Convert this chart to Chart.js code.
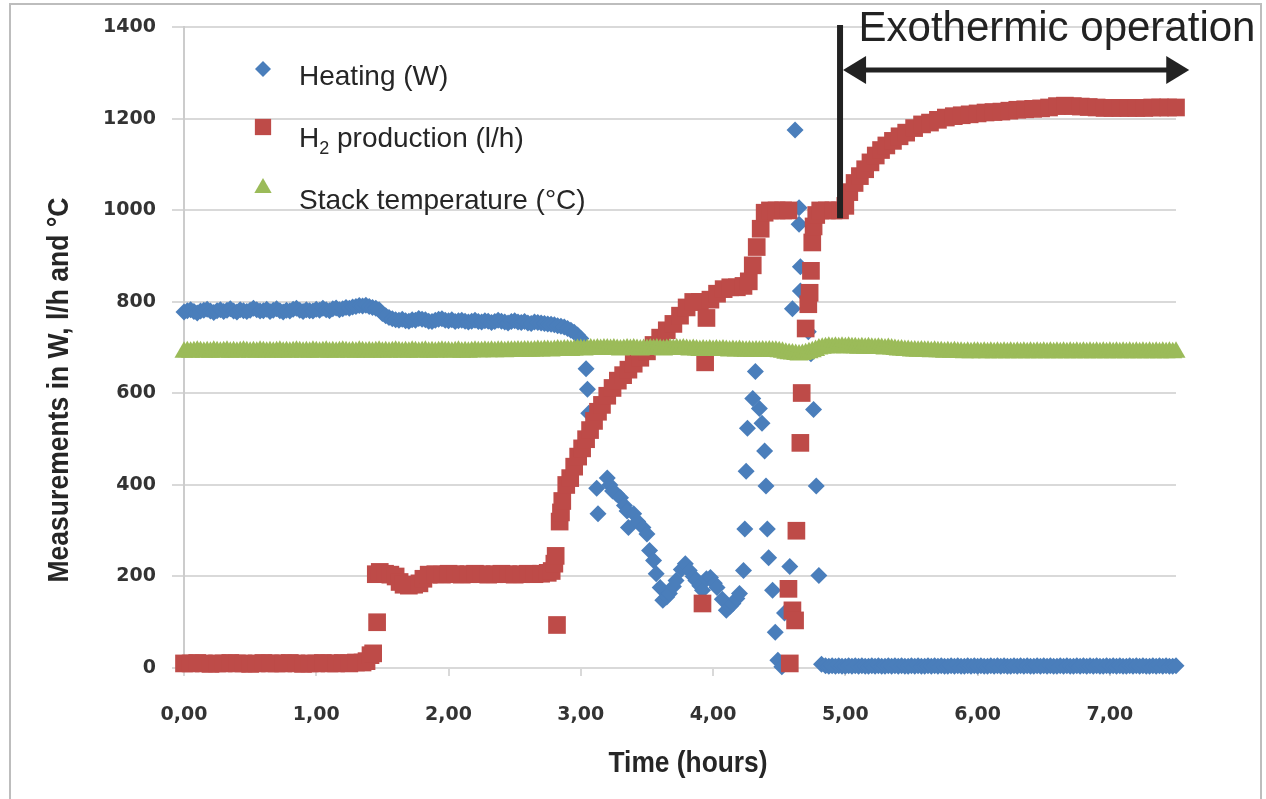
<!DOCTYPE html>
<html>
<head>
<meta charset="utf-8">
<script src="https://cdn.jsdelivr.net/npm/chart.js@4.4.1/dist/chart.umd.min.js"></script>
<style>
html,body{margin:0;padding:0;background:#fff;}
#wrap{position:relative;width:1266px;height:799px;}
</style>
</head>
<body>
<div id="wrap"><canvas id="c" width="1266" height="799"></canvas></div>
<script>
// ---------------- DATA ----------------
const seriesLabels = ['Heating (W)', 'H\u2082 production (l/h)', 'Stack temperature (\u00B0C)'];
const xTickLabels = ['0,00','1,00','2,00','3,00','4,00','5,00','6,00','7,00'];
const yTickLabels = ['0','200','400','600','800','1000','1200','1400'];
const axisTitles = { x: 'Time (hours)', y: 'Measurements in W, l/h and \u00B0C' };
const annotationText = 'Exothermic operation';

const heatingTime = [
0.000,0.025,0.050,0.075,0.100,0.125,0.150,0.175,0.200,0.225,0.250,0.275,0.300,0.325,0.350,0.375,0.400,0.425,0.450,0.475,
0.500,0.525,0.550,0.575,0.600,0.625,0.650,0.675,0.700,0.725,0.750,0.775,0.800,0.825,0.850,0.875,0.900,0.925,0.950,0.975,
1.000,1.025,1.050,1.075,1.100,1.125,1.150,1.175,1.200,1.225,1.250,1.275,1.300,1.325,1.350,1.375,1.400,1.425,1.450,1.475,
1.500,1.525,1.550,1.575,1.600,1.625,1.650,1.675,1.700,1.725,1.750,1.775,1.800,1.825,1.850,1.875,1.900,1.925,1.950,1.975,
2.000,2.025,2.050,2.075,2.100,2.125,2.150,2.175,2.200,2.225,2.250,2.275,2.300,2.325,2.350,2.375,2.400,2.425,2.450,2.475,
2.500,2.525,2.550,2.575,2.600,2.625,2.650,2.675,2.700,2.725,2.750,2.775,2.800,2.825,2.850,2.875,2.900,2.925,2.950,2.975,
3.00,3.04,3.05,3.06,3.12,3.13,3.20,3.22,3.24,3.27,3.30,3.33,3.35,3.36,3.40,3.43,3.47,3.50,3.52,3.55,3.57,
3.60,3.62,3.65,3.67,3.70,3.72,3.76,3.79,3.82,3.85,3.87,3.90,3.92,3.95,3.98,4.01,4.03,4.07,4.10,4.13,
4.15,4.18,4.20,4.23,4.24,4.25,4.26,4.30,4.32,4.35,4.37,4.39,4.40,4.41,4.42,4.45,4.47,4.49,4.52,4.54,
4.58,4.60,4.62,4.65,4.65,4.66,4.66,4.72,4.74,4.76,4.78,4.80,4.82,
4.850,4.875,4.900,4.925,4.950,4.975,5.000,5.025,5.050,5.075,5.100,5.125,5.150,5.175,5.200,5.225,5.250,5.275,5.300,5.325,
5.350,5.375,5.400,5.425,5.450,5.475,5.500,5.525,5.550,5.575,5.600,5.625,5.650,5.675,5.700,5.725,5.750,5.775,5.800,5.825,
5.850,5.875,5.900,5.925,5.950,5.975,6.000,6.025,6.050,6.075,6.100,6.125,6.150,6.175,6.200,6.225,6.250,6.275,6.300,6.325,
6.350,6.375,6.400,6.425,6.450,6.475,6.500,6.525,6.550,6.575,6.600,6.625,6.650,6.675,6.700,6.725,6.750,6.775,6.800,6.825,
6.850,6.875,6.900,6.925,6.950,6.975,7.000,7.025,7.050,7.075,7.100,7.125,7.150,7.175,7.200,7.225,7.250,7.275,7.300,7.325,
7.350,7.375,7.400,7.425,7.450,7.475,7.500
];
const heatingW = [
778,781,783,779,776,780,782,784,780,777,781,783,779,782,785,780,778,783,781,779,
782,786,783,780,781,784,779,782,785,781,778,782,780,784,786,782,779,783,781,780,
784,782,786,783,781,785,787,783,785,788,786,789,790,792,791,793,790,788,786,783,
775,770,766,763,761,760,762,759,758,761,760,764,762,761,758,757,760,762,763,760,
759,761,757,759,760,758,756,758,760,757,756,759,758,755,757,760,758,756,754,757,
759,756,755,757,754,753,756,755,754,753,752,751,750,748,747,745,742,738,734,728,
720,654,609,557,393,337,415,400,387,380,372,355,343,307,337,320,307,293,257,235,206,
176,148,155,163,178,191,215,228,213,200,191,180,170,195,198,185,176,150,126,135,
141,152,163,213,304,430,524,589,648,567,535,474,398,304,241,170,78,17,3,120,
222,785,1176,1006,970,877,824,735,687,565,398,202,8,
5,4,5,4,5,4,4,5,4,5,4,5,4,4,5,4,5,4,4,5,
4,5,4,5,4,4,5,4,5,4,4,5,4,5,4,5,4,4,5,4,
5,4,4,5,4,5,4,5,4,4,5,4,5,4,5,4,4,5,4,5,
4,5,4,4,5,4,5,4,5,4,4,5,4,5,4,4,5,4,5,4,
5,4,5,4,4,5,4,5,4,5,4,4,5,4,5,4,5,4,4,5,
4,5,4,5,4,4,5
];

const h2Time = [
0.00,0.05,0.10,0.15,0.20,0.25,0.30,0.35,0.40,0.45,0.50,0.55,0.60,0.65,0.70,0.75,0.80,0.85,0.90,0.95,1.00,1.05,1.10,1.15,1.20,1.25,1.30,1.35,
1.38,1.41,1.43,1.46,1.45,1.48,1.52,1.56,1.60,1.63,1.66,1.70,1.74,1.78,1.81,1.85,
1.90,1.95,2.00,2.05,2.10,2.15,2.20,2.25,2.30,2.35,2.40,2.45,2.50,2.55,2.60,2.65,2.70,2.75,
2.78,2.80,2.81,2.82,2.84,2.85,2.86,2.89,2.92,2.95,2.98,3.01,3.04,3.07,3.10,3.13,3.16,3.20,3.24,3.28,
3.32,3.36,3.40,3.45,3.50,3.55,3.60,3.65,3.70,3.75,3.80,3.85,3.90,3.92,3.94,3.95,3.98,4.03,4.08,4.13,
4.18,4.23,4.27,4.30,4.33,4.36,4.39,4.43,4.48,4.53,4.57,4.57,4.58,4.60,4.62,4.63,4.66,4.67,4.70,4.72,
4.73,4.74,4.75,4.76,4.78,4.81,4.86,4.91,4.96,
5.00,5.03,5.07,5.11,5.15,5.19,5.23,5.27,5.31,5.36,5.41,5.46,5.52,5.58,5.64,5.70,5.76,5.82,5.88,5.94,
6.00,6.06,6.12,6.18,6.24,6.30,6.36,6.42,6.48,6.54,6.60,6.66,6.72,6.78,6.84,6.90,6.96,7.02,7.08,7.14,
7.20,7.26,7.32,7.38,7.44,7.50
];
const h2Flow = [
10,10,11,10,9,10,10,11,10,10,9,10,11,10,10,10,11,10,9,10,10,11,10,10,11,10,12,12,
15,28,32,100,205,210,206,204,200,188,182,180,182,185,195,204,
205,204,206,205,204,205,206,205,204,205,206,205,204,205,206,205,206,208,
212,228,245,94,320,340,365,400,415,440,462,480,500,520,540,560,575,595,612,628,
640,652,665,678,692,706,722,738,752,770,788,800,800,141,668,765,805,818,828,832,
832,835,845,880,920,960,995,1000,1000,1000,1000,173,10,126,104,300,492,601,742,795,
820,868,930,965,990,1000,1000,1000,1000,
1010,1040,1060,1075,1090,1105,1120,1132,1142,1152,1162,1170,1180,1188,1192,1198,1203,1206,1208,1210,
1212,1214,1215,1216,1218,1220,1221,1222,1223,1225,1228,1229,1228,1227,1226,1225,1224,1224,1224,1224,
1224,1224,1225,1225,1225,1225
];

const tempTime = [
0.000,0.025,0.050,0.075,0.100,0.125,0.150,0.175,0.200,0.225,0.250,0.275,0.300,0.325,0.350,0.375,0.400,0.425,0.450,0.475,
0.500,0.525,0.550,0.575,0.600,0.625,0.650,0.675,0.700,0.725,0.750,0.775,0.800,0.825,0.850,0.875,0.900,0.925,0.950,0.975,
1.000,1.025,1.050,1.075,1.100,1.125,1.150,1.175,1.200,1.225,1.250,1.275,1.300,1.325,1.350,1.375,1.400,1.425,1.450,1.475,
1.500,1.525,1.550,1.575,1.600,1.625,1.650,1.675,1.700,1.725,1.750,1.775,1.800,1.825,1.850,1.875,1.900,1.925,1.950,1.975,
2.000,2.025,2.050,2.075,2.100,2.125,2.150,2.175,2.200,2.225,2.250,2.275,2.300,2.325,2.350,2.375,2.400,2.425,2.450,2.475,
2.500,2.525,2.550,2.575,2.600,2.625,2.650,2.675,2.700,2.725,2.750,2.775,2.800,2.825,2.850,2.875,2.900,2.925,2.950,2.975,
3.000,3.025,3.050,3.075,3.100,3.125,3.150,3.175,3.200,3.225,3.250,3.275,3.300,3.325,3.350,3.375,3.400,3.425,3.450,3.475,
3.500,3.525,3.550,3.575,3.600,3.625,3.650,3.675,3.700,3.725,3.750,3.775,3.800,3.825,3.850,3.875,3.900,3.925,3.950,3.975,
4.000,4.025,4.050,4.075,4.100,4.125,4.150,4.175,4.200,4.225,4.250,4.275,4.300,4.325,4.350,4.375,4.400,4.425,4.450,4.475,
4.500,4.525,4.550,4.575,4.600,4.625,4.650,4.675,4.700,4.725,4.750,4.775,4.800,4.825,4.850,4.875,4.900,4.925,4.950,4.975,
5.000,5.025,5.050,5.075,5.100,5.125,5.150,5.175,5.200,5.225,5.250,5.275,5.300,5.325,5.350,5.375,5.400,5.425,5.450,5.475,
5.500,5.525,5.550,5.575,5.600,5.625,5.650,5.675,5.700,5.725,5.750,5.775,5.800,5.825,5.850,5.875,5.900,5.925,5.950,5.975,
6.000,6.025,6.050,6.075,6.100,6.125,6.150,6.175,6.200,6.225,6.250,6.275,6.300,6.325,6.350,6.375,6.400,6.425,6.450,6.475,
6.500,6.525,6.550,6.575,6.600,6.625,6.650,6.675,6.700,6.725,6.750,6.775,6.800,6.825,6.850,6.875,6.900,6.925,6.950,6.975,
7.000,7.025,7.050,7.075,7.100,7.125,7.150,7.175,7.200,7.225,7.250,7.275,7.300,7.325,7.350,7.375,7.400,7.425,7.450,7.475,
7.500
];
const tempC = [
690,691,690,691,692,691,690,691,690,692,691,690,691,692,690,691,690,691,692,691,
690,691,690,692,691,690,691,690,691,692,690,691,690,691,692,691,690,691,690,692,
691,690,691,692,690,691,690,691,692,691,690,691,690,692,691,690,691,690,691,692,
690,691,690,691,692,691,690,691,690,692,691,690,691,692,690,691,690,691,692,691,
691,690,691,692,690,691,690,691,692,691,691,692,691,692,691,692,692,691,692,692,
692,693,692,693,693,692,693,694,693,694,694,693,694,695,694,695,695,694,695,696,
696,695,696,697,696,697,696,697,697,696,697,696,695,696,697,696,697,696,695,696,
696,697,696,697,696,695,696,697,696,697,696,697,696,695,696,695,694,695,694,695,
694,695,694,695,694,693,694,693,694,693,692,693,692,693,692,693,692,693,692,692,
691,690,688,687,686,685,684,685,687,689,691,694,697,699,700,701,700,701,700,701,
700,701,700,700,699,700,699,700,699,698,699,698,697,698,697,696,695,695,694,694,
693,693,692,693,692,692,691,692,691,691,690,691,690,691,690,690,689,690,689,690,
690,689,690,689,690,689,690,689,690,689,690,689,690,689,690,689,690,689,690,689,
690,689,690,689,690,689,690,689,690,689,690,689,690,689,690,689,690,689,690,689,
690,689,690,689,690,689,690,689,690,689,690,689,690,689,690,689,690,689,690,689,
690
];

// ---------------- STYLE / LAYOUT ----------------
const COLORS = { heating: '#4a7ebb', h2: '#be4b48', temp: '#9bbb59', text: '#262626', grid: '#d9d9d9' };
const MARKER = { rectRot: 8.5, rect: 12.5, triangle: 11 };
const annot = { lineX: 4.96, lineTop: 1405, lineBottom: 983, arrowY: 1307, arrowEnd: 7.60, textX: 5.10, textY: 1370 };
const legendLayout = { markerX: 263, textX: 299, rows: [ {my: 69, ty: 85}, {my: 127, ty: 147}, {my: 188, ty: 209} ] };

const toPts = (xs, ys) => xs.map((x, i) => ({ x: x, y: ys[i] }));

function shape(c, style, x, y, r) {
  c.beginPath();
  if (style === 'rectRot') {
    c.moveTo(x, y - r); c.lineTo(x + r, y); c.lineTo(x, y + r); c.lineTo(x - r, y);
  } else if (style === 'rect') {
    const s = r * Math.SQRT1_2; c.rect(x - s, y - s, 2 * s, 2 * s);
  } else {
    c.moveTo(x, y - r);
    c.lineTo(x + Math.sin(2 * Math.PI / 3) * r, y + r / 2);
    c.lineTo(x - Math.sin(2 * Math.PI / 3) * r, y + r / 2);
  }
  c.closePath(); c.fill();
}

function fitText(c, text, cx, cy, targetW, rot) {
  const w = c.measureText(text).width;
  const sx = targetW / w;
  c.save(); c.translate(cx, cy); if (rot) c.rotate(rot); c.scale(sx, 1);
  c.textAlign = 'center'; c.textBaseline = 'middle'; c.fillText(text, 0, 0); c.restore();
}

const overlay = {
  id: 'overlay',
  beforeDraw(chart) {
    const c = chart.ctx; c.save();
    c.fillStyle = '#fff'; c.fillRect(0, 0, chart.width, chart.height);
    c.strokeStyle = '#bdbdbd'; c.lineWidth = 2; c.strokeRect(10, 4, 1251, 820);
    c.restore();
  },
  afterDraw(chart) {
    const c = chart.ctx, xs = chart.scales.x, ys = chart.scales.y;
    c.save();
    c.fillStyle = COLORS.text;
    c.font = 'bold 29px "Liberation Sans", Arial, sans-serif';
    fitText(c, axisTitles.x, 688, 764, 159, 0);
    fitText(c, axisTitles.y, 60, 390, 385, -Math.PI / 2);
    chart.data.datasets.forEach((ds, i) => {
      const row = legendLayout.rows[i];
      c.fillStyle = ds.backgroundColor;
      shape(c, ds.pointStyle, legendLayout.markerX, row.my, ds.pointStyle === 'rect' ? 11.5 : (ds.pointStyle === 'triangle' ? 10 : 8));
      c.fillStyle = COLORS.text;
      c.textAlign = 'left'; c.textBaseline = 'alphabetic';
      const parts = ds.label.split('\u2082');
      c.font = '28px "Liberation Sans", Arial, sans-serif';
      if (parts.length === 2) {
        c.fillText(parts[0], legendLayout.textX, row.ty);
        let x = legendLayout.textX + c.measureText(parts[0]).width;
        c.font = '18px "Liberation Sans", Arial, sans-serif';
        c.fillText('2', x, row.ty + 7);
        x += c.measureText('2').width;
        c.font = '28px "Liberation Sans", Arial, sans-serif';
        c.fillText(parts[1], x, row.ty);
      } else {
        c.fillText(ds.label, legendLayout.textX, row.ty);
      }
    });
    const lx = xs.getPixelForValue(annot.lineX);
    c.strokeStyle = '#222'; c.fillStyle = '#222';
    c.lineWidth = 6; c.lineCap = 'butt';
    c.beginPath(); c.moveTo(lx, ys.getPixelForValue(annot.lineTop)); c.lineTo(lx, ys.getPixelForValue(annot.lineBottom)); c.stroke();
    const ay = ys.getPixelForValue(annot.arrowY);
    const a1 = lx + 3, a2 = xs.getPixelForValue(annot.arrowEnd);
    c.lineWidth = 5;
    c.beginPath(); c.moveTo(a1 + 15, ay); c.lineTo(a2 - 15, ay); c.stroke();
    c.beginPath(); c.moveTo(a1, ay); c.lineTo(a1 + 23, ay - 14); c.lineTo(a1 + 23, ay + 14); c.closePath(); c.fill();
    c.beginPath(); c.moveTo(a2, ay); c.lineTo(a2 - 23, ay - 14); c.lineTo(a2 - 23, ay + 14); c.closePath(); c.fill();
    c.font = '42px "Liberation Sans", Arial, sans-serif';
    c.textAlign = 'left'; c.textBaseline = 'alphabetic';
    c.fillText(annotationText, xs.getPixelForValue(annot.textX), ys.getPixelForValue(annot.textY));
    c.restore();
  }
};

const tickFont = { family: '"DejaVu Sans", Verdana, sans-serif', size: 19, weight: 'bold' };

new Chart(document.getElementById('c'), {
  type: 'scatter',
  data: {
    datasets: [
      { label: seriesLabels[0], data: toPts(heatingTime, heatingW), pointStyle: 'rectRot', pointRadius: MARKER.rectRot,
        backgroundColor: COLORS.heating, borderColor: COLORS.heating, pointBorderWidth: 0, order: 3, clip: false },
      { label: seriesLabels[1], data: toPts(h2Time, h2Flow), pointStyle: 'rect', pointRadius: MARKER.rect,
        backgroundColor: COLORS.h2, borderColor: COLORS.h2, pointBorderWidth: 0, order: 2, clip: false },
      { label: seriesLabels[2], data: toPts(tempTime, tempC), pointStyle: 'triangle', pointRadius: MARKER.triangle,
        backgroundColor: COLORS.temp, borderColor: COLORS.temp, pointBorderWidth: 0, order: 1, clip: false }
    ]
  },
  options: {
    responsive: false, animation: false, devicePixelRatio: 1, events: [],
    layout: { padding: { left: 0, right: 90, top: 24, bottom: 0 } },
    plugins: { legend: { display: false }, tooltip: { enabled: false }, title: { display: false } },
    scales: {
      x: {
        type: 'linear', min: 0, max: 7.5,
        afterFit: (s) => { s.height = 131; },
        grid: { drawOnChartArea: false, drawTicks: true, tickLength: 8, color: COLORS.grid, lineWidth: 2 },
        border: { color: COLORS.grid, width: 2 },
        ticks: { stepSize: 1, includeBounds: false, autoSkip: false, maxRotation: 0, padding: 28,
                 font: tickFont, color: '#333', callback: (v) => xTickLabels[Math.round(v)] }
      },
      y: {
        min: 0, max: 1400,
        afterFit: (s) => { s.width = 184; },
        grid: { color: COLORS.grid, tickLength: 12, lineWidth: 2 },
        border: { color: '#cccccc', width: 2 },
        ticks: { stepSize: 200, padding: 16, font: tickFont, color: '#333',
                 callback: (v) => yTickLabels[Math.round(v / 200)] }
      }
    }
  },
  plugins: [overlay]
});
</script>
</body>
</html>
